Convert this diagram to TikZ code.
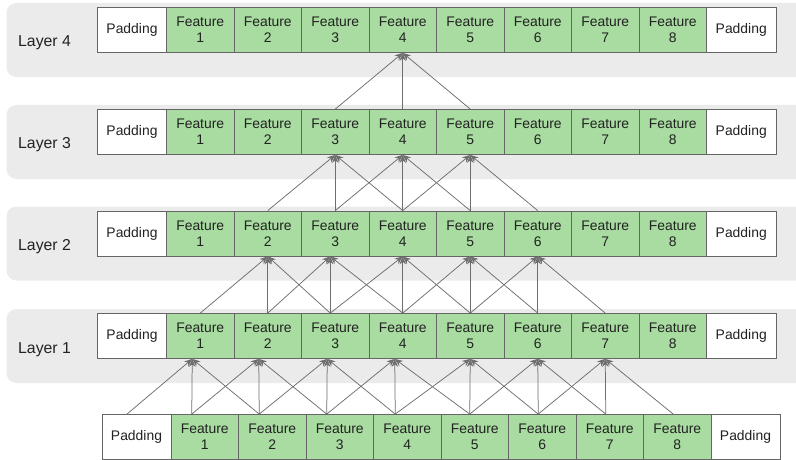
\documentclass[tikz,border=0pt]{standalone}
\usepackage{fontspec}
\setmainfont{Liberation Sans}
\usetikzlibrary{arrows.meta,calc}
\definecolor{bandc}{HTML}{EBEBEB}
\definecolor{featc}{HTML}{A8DCA0}
\definecolor{edgec}{HTML}{666666}
\definecolor{arrc}{HTML}{6E6E6E}
\definecolor{txtc}{HTML}{222222}
\begin{document}
\begin{tikzpicture}[x=1pt,y=-1pt,
  cell/.style={draw=edgec, line width=0.8pt, minimum height=45pt, inner sep=0pt,
    align=center, text=txtc, font=\fontsize{13.9}{15.8}\selectfont},
  featcell/.style={cell, fill=featc, minimum width=67.5pt},
  padcell/.style={cell, fill=white, minimum width=69pt},
  laylabel/.style={anchor=base west, text=txtc, inner sep=0pt, font=\fontsize{15.8}{18}\selectfont},
  band/.style={fill=bandc, rounded corners=10pt},
  arr/.style={draw=arrc, line width=0.75pt, -{Stealth[length=8pt,width=6.5pt]}}]
\useasboundingbox (0,0) rectangle (796,460);
\clip (0,0) rectangle (796,460);
% layer rows
\foreach \L/\tp in {4/7.5, 3/109.5, 2/211, 1/313.5}{
  \pgfmathsetmacro\yc{\tp+22.5}
  \pgfmathsetmacro\yb{\tp+39.5}
  \fill[band] (6.5,\tp-4.5) rectangle (815,\tp+69.5);
  \node[laylabel] (lab\L) at (18,\yb) {Layer \L};
  \node[padcell] (L\L-0) at (132,\yc) {Padding};
  \foreach \i in {1,...,8}{
    \node[featcell] (L\L-\i) at ({166.5+67.5*(\i-0.5)},\yc) {Feature\\\i};
  }
  \node[padcell, minimum width=69.5pt] (L\L-9) at (741.25,\yc) {Padding};
}
% input row
\node[padcell] (I-0) at (136.5,437) {Padding};
\foreach \i in {1,...,8}{
  \node[featcell] (I-\i) at ({171+67.5*(\i-0.5)},437) {Feature\\\i};
}
\node[padcell] (I-9) at (745.5,437) {Padding};
% connectors: input -> layer 1
\def\inoff{{-9.5,-13,-13,-13,-12,-5,-4,-4,-4,0}}
\def\onetip{{0,-8,-9,-8,-8,0,0,0,0,0}}
\foreach \i in {1,...,7}{
  \foreach \d in {-1,0,1}{
    \pgfmathtruncatemacro\j{\i+\d}
    \pgfmathsetmacro\s{\inoff[\j]}
    \pgfmathsetmacro\t{\onetip[\i]}
    \draw[arr] ([xshift=\s pt]I-\j.north) -- ([xshift=\t pt]L1-\i.south);
  }
}
% layer 1 -> layer 2
\def\oneport{{0,0,0,-5,0,0,0,0,0,0}}
\def\twotip{{0,0,0,-5,0,0,0,0,0,0}}
\foreach \i in {2,...,6}{
  \foreach \d in {-1,0,1}{
    \pgfmathtruncatemacro\j{\i+\d}
    \pgfmathsetmacro\s{\oneport[\j]}
    \pgfmathsetmacro\t{\twotip[\i]}
    \draw[arr] ([xshift=\s pt]L1-\j.north) -- ([xshift=\t pt]L2-\i.south);
  }
}
% layer 2 -> layer 3
\foreach \i in {3,...,5}{
  \foreach \d in {-1,0,1}{
    \pgfmathtruncatemacro\j{\i+\d}
    \draw[arr] (L2-\j.north) -- (L3-\i.south);
  }
}
% layer 3 -> layer 4
\foreach \j in {3,4,5}{
  \draw[arr] (L3-\j.north) -- (L4-4.south);
}
\end{tikzpicture}
\end{document}
